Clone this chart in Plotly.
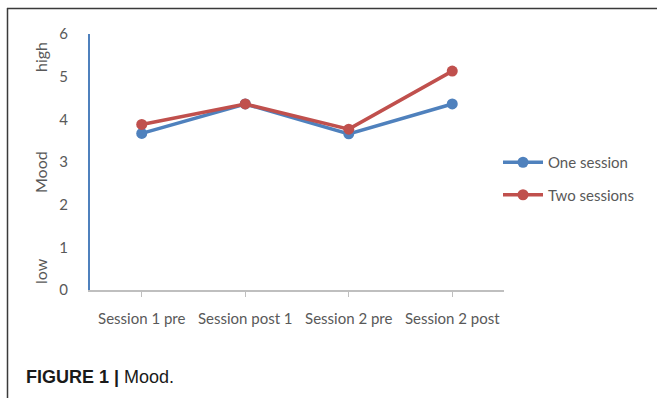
import plotly.graph_objects as go

# Mood ratings per measurement point
sessions = ["Session 1 pre", "Session post 1", "Session 2 pre", "Session 2 post"]
one_session = [3.67, 4.36, 3.66, 4.36]
two_sessions = [3.88, 4.36, 3.77, 5.13]
y_ticks = [0, 1, 2, 3, 4, 5, 6]

W, H = 657, 398
L, R, T, B = 90, 504, 34, 290  # plot area in pixels

BLUE = "#4F81BD"
RED = "#C0504D"
GRAY = "#595959"
FONT = "Lato"

fig = go.Figure()
fig.add_trace(go.Scatter(
    x=sessions, y=one_session, name="One session", mode="lines+markers",
    line=dict(color=BLUE, width=3.5), marker=dict(color=BLUE, size=11),
    legendgroup="a",
))
fig.add_trace(go.Scatter(
    x=sessions, y=two_sessions, name="Two sessions", mode="lines+markers",
    line=dict(color=RED, width=3.5), marker=dict(color=RED, size=11),
    legendgroup="b",
))


def px_x(p):
    return (p - L) / (R - L)


def px_y(p):
    return (B - p) / (B - T)


fig.update_layout(
    width=W, height=H,
    margin=dict(l=L, r=W - R, t=T, b=H - B, pad=0),
    paper_bgcolor="white", plot_bgcolor="white",
    font=dict(family=FONT, size=15, color=GRAY),
    showlegend=True,
    legend=dict(
        x=px_x(498), xanchor="left", y=px_y(146), yanchor="top",
        font=dict(family=FONT, size=15, color=GRAY),
        tracegroupgap=10, traceorder="grouped",
        bgcolor="rgba(0,0,0,0)", itemwidth=40,
    ),
    xaxis=dict(
        type="category", range=[-0.5, 3.5],
        showline=True, linecolor="#BFBFBF", linewidth=1.5,
        ticks="outside", ticklen=5, tickcolor="#BFBFBF",
        showgrid=False, zeroline=False,
        tickfont=dict(family=FONT, size=15, color=GRAY),
        ticklabelstandoff=9,
    ),
    yaxis=dict(
        range=[0, 6], tickvals=y_ticks,
        showline=True, linecolor=BLUE, linewidth=2,
        ticks="", showgrid=False, zeroline=False,
        tickfont=dict(family=FONT, size=15, color=GRAY),
        ticklabelstandoff=17,
    ),
)

# Y-axis descriptors
for txt, yp in [("low", 271), ("Mood", 172), ("high", 57)]:
    fig.add_annotation(
        text=txt, xref="paper", yref="paper", x=px_x(40), y=px_y(yp),
        xanchor="center", yanchor="middle",
        textangle=-90, showarrow=False,
        font=dict(family=FONT, size=16, color=GRAY),
    )

# Figure caption
fig.add_annotation(
    text="<b>FIGURE 1 |</b> Mood.", xref="paper", yref="paper",
    x=px_x(24), y=px_y(377), xanchor="left", yanchor="middle", showarrow=False,
    font=dict(family="Liberation Sans", size=18, color="#1a1a1a"),
)

# Frame lines (top and left)
fig.add_shape(type="line", xref="paper", yref="paper",
              x0=px_x(7), y0=px_y(8.5), x1=px_x(657), y1=px_y(8.5),
              line=dict(color="#3a3a3a", width=1.5))
fig.add_shape(type="line", xref="paper", yref="paper",
              x0=px_x(7.5), y0=px_y(8), x1=px_x(7.5), y1=px_y(398),
              line=dict(color="#3a3a3a", width=1.5))

fig.write_html("out.html")
